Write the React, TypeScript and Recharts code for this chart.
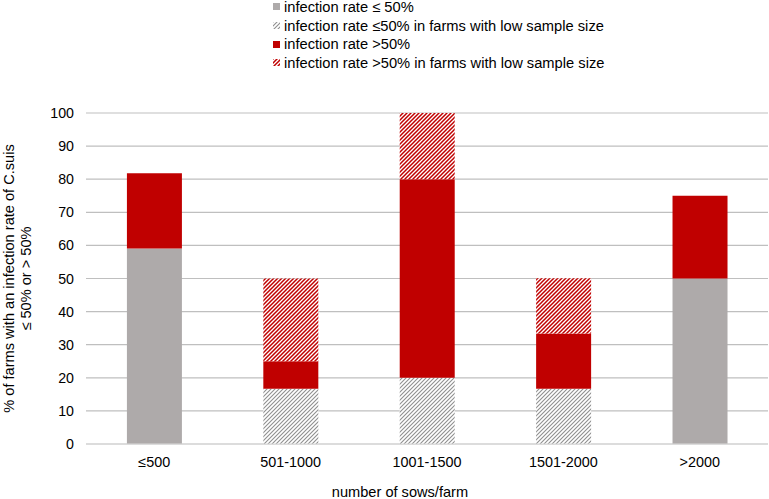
import { BarChart, Bar, XAxis, YAxis, CartesianGrid, Legend } from "recharts";

const categories = ["≤500", "501-1000", "1001-1500", "1501-2000", ">2000"];
const lowRate = [59.1, 0, 0, 0, 50];
const lowRateSmall = [0, 16.7, 20, 16.7, 0];
const highRate = [22.7, 8.3, 60, 16.7, 25];
const highRateSmall = [0, 25, 20, 16.7, 0];
const yTicks = [0, 10, 20, 30, 40, 50, 60, 70, 80, 90, 100];

const series = [
  { key: "low", name: "infection rate ≤ 50%", fill: "#aeaaaa" },
  { key: "lowSmall", name: "infection rate ≤50% in farms with low sample size", fill: "url(#hatchGray)" },
  { key: "high", name: "infection rate >50%", fill: "#c00000" },
  { key: "highSmall", name: "infection rate >50% in farms with low sample size", fill: "url(#hatchRed)" },
];

const data = categories.map((c, i) => ({
  name: c,
  low: lowRate[i],
  lowSmall: lowRateSmall[i],
  high: highRate[i],
  highSmall: highRateSmall[i],
}));

const font = "'Liberation Sans', Arial, sans-serif";
const hatchPath = "M-1,1 L1,-1 M0,4 L4,0 M3,5 L5,3";

function LegendBox() {
  return (
    <div style={{ fontFamily: font, fontSize: 14.7, color: "#000", lineHeight: "18.7px" }}>
      {series.map((s) => (
        <div key={s.key} style={{ display: "flex", alignItems: "center", whiteSpace: "nowrap" }}>
          <svg width={8} height={8} style={{ marginRight: 3 }}>
            <rect x={0} y={0} width={7} height={7} fill={s.fill} />
          </svg>
          <span>{s.name}</span>
        </div>
      ))}
    </div>
  );
}

function YTitle({ viewBox }: any) {
  const cy = viewBox.y + viewBox.height / 2;
  return (
    <text
      transform={`translate(14, ${cy}) rotate(-90)`}
      textAnchor="middle"
      fontFamily={font}
      fontSize={14.6}
      fill="#000"
    >
      <tspan x={0} y={0}>% of farms with an infection rate of C.suis</tspan>
      <tspan x={0} dy={16.5}>≤ 50% or &gt; 50%</tspan>
    </text>
  );
}

function XTitle({ viewBox }: any) {
  return (
    <text
      x={viewBox.x + viewBox.width / 2 - 27}
      y={497}
      textAnchor="middle"
      fontFamily={font}
      fontSize={14.6}
      fill="#000"
    >
      number of sows/farm
    </text>
  );
}

export default function App() {
  return (
    <div style={{ position: "absolute", left: 0, top: 0 }}>
      <BarChart
        width={769}
        height={499}
        data={data}
        margin={{ top: 113, right: 1, bottom: 0, left: 0 }}
        barCategoryGap="30%"
      >
        <defs>
          <pattern id="hatchGray" width={4} height={4} patternUnits="userSpaceOnUse">
            <rect width={4} height={4} fill="#fff" />
            <path d={hatchPath} stroke="#8f8f8f" strokeWidth={1.1} />
          </pattern>
          <pattern id="hatchRed" width={4} height={4} patternUnits="userSpaceOnUse">
            <rect width={4} height={4} fill="#fff" />
            <path d={hatchPath} stroke="#c00000" strokeWidth={1.5} />
          </pattern>
        </defs>
        <CartesianGrid vertical={false} stroke="#bfbfbf" strokeWidth={1.2} />
        <XAxis
          dataKey="name"
          height={55}
          axisLine={{ stroke: "#d9d9d9", strokeWidth: 1.2 }}
          tickLine={false}
          tickMargin={7}
          tick={{ fill: "#000", fontSize: 14.4, fontFamily: font }}
          label={<XTitle />}
        />
        <YAxis
          width={86}
          domain={[0, 100]}
          ticks={yTicks}
          axisLine={false}
          tickLine={false}
          tickMargin={6}
          tick={{ fill: "#000", fontSize: 14.2, fontFamily: font }}
          label={<YTitle />}
        />
        <Legend
          layout="vertical"
          align="center"
          verticalAlign="middle"
          wrapperStyle={{ top: -2, left: 273, width: "auto" }}
          content={() => <LegendBox />}
        />
        {series.map((s) => (
          <Bar
            key={s.key}
            dataKey={s.key}
            name={s.name}
            stackId="a"
            fill={s.fill}
            isAnimationActive={false}
          />
        ))}
      </BarChart>
    </div>
  );
}
